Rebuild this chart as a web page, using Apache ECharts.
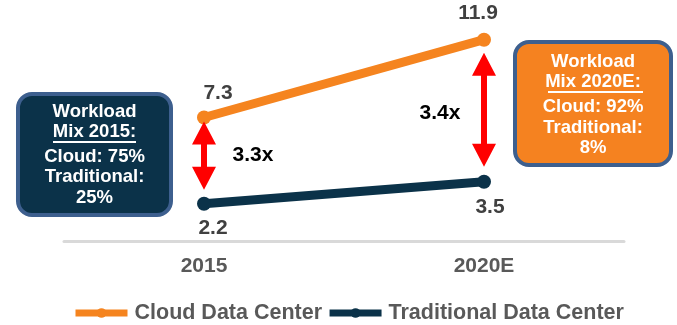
<!DOCTYPE html>
<html>
<head>
<meta charset="utf-8">
<script src="https://cdn.jsdelivr.net/npm/echarts@6/dist/echarts.min.js"></script>
<style>
  html, body { margin: 0; padding: 0; background: #fff; }
  #chart { width: 677px; height: 325px; }
</style>
</head>
<body>
<div id="chart"></div>
<script>
// Data center workload data
const categories = ['2015', '2020E'];
const cloudValues = [7.3, 11.9];
const traditionalValues = [2.2, 3.5];
const seriesNames = ['Cloud Data Center', 'Traditional Data Center'];

// Workload mix call-out boxes
const mix2015 = ['Workload', 'Mix 2015:', 'Cloud: 75%', 'Traditional:', '25%'];
const mix2020 = ['Workload', 'Mix 2020E:', 'Cloud: 92%', 'Traditional:', '8%'];

const ORANGE = '#F5841F';
const NAVY = '#0B3249';
const BORDER = '#3D5F8E';
const FONT = 'Liberation Sans, Arial, sans-serif';

const chart = echarts.init(document.getElementById('chart'));

// label offsets for each point's value text
const cloudLabelOffsets = [[14, -2], [-6, -4]];
const tradLabelOffsets = [[9, 2], [6, 3]];
// arrow tip gaps from the points (top, bottom) and multiplier text offsets
const arrowGaps = [[4, 14], [13, 15]];
const ratioTextOffsets = [[49, 0], [-44, 3]];

function boxGraphic(lines, x, y, w, h, fill, lineYs, ulY, ulX1, ulX2) {
  const cx = x + w / 2;
  const children = [{
    type: 'rect',
    shape: { x: x, y: y, width: w, height: h, r: 14 },
    style: { fill: fill, stroke: BORDER, lineWidth: 4 }
  }];
  lines.forEach((t, i) => {
    children.push({
      type: 'text',
      style: {
        text: t, x: cx, y: lineYs[i], align: 'center', verticalAlign: 'middle',
        fill: '#fff', font: 'bold 18.5px ' + FONT
      }
    });
  });
  children.push({
    type: 'line',
    shape: { x1: ulX1, y1: ulY, x2: ulX2, y2: ulY },
    style: { stroke: '#fff', lineWidth: 2 }
  });
  return { type: 'group', children: children, z: 10 };
}

const arrowData = categories.map((c, i) => [i, cloudValues[i], traditionalValues[i]]);

const option = {
  animation: false,
  grid: { left: 64, right: 53, top: 38, bottom: 84 },
  xAxis: {
    type: 'category',
    data: categories,
    boundaryGap: true,
    axisLine: { lineStyle: { color: '#D9D9D9', width: 3 } },
    axisTick: { show: false },
    axisLabel: {
      margin: 15,
      color: '#595959',
      fontWeight: 'bold',
      fontSize: 21,
      fontFamily: FONT
    }
  },
  yAxis: {
    type: 'value',
    min: 0,
    max: 12,
    show: false,
    splitLine: { show: false }
  },
  legend: {
    top: 302,
    left: 72,
    padding: 0,
    itemWidth: 52,
    itemHeight: 12,
    itemGap: 4,
    data: seriesNames,
    lineStyle: { width: 7 },
    textStyle: { color: '#595959', fontWeight: 'bold', fontSize: 21.5, fontFamily: FONT, padding: [0, 0, 0, 2] }
  },
  series: [
    {
      name: seriesNames[0],
      type: 'line',
      data: cloudValues.map((v, i) => ({
        value: v,
        label: { offset: cloudLabelOffsets[i] }
      })),
      symbol: 'circle',
      symbolSize: 14,
      color: ORANGE,
      lineStyle: { width: 9, color: ORANGE },
      itemStyle: { color: ORANGE },
      label: {
        show: true, position: 'top', distance: 5,
        color: '#404040', fontWeight: 'bold', fontSize: 21, fontFamily: FONT
      },
      z: 3
    },
    {
      name: seriesNames[1],
      type: 'line',
      data: traditionalValues.map((v, i) => ({
        value: v,
        label: { offset: tradLabelOffsets[i] }
      })),
      symbol: 'circle',
      symbolSize: 14,
      color: NAVY,
      lineStyle: { width: 9, color: NAVY },
      itemStyle: { color: NAVY },
      label: {
        show: true, position: 'bottom', distance: 5,
        color: '#404040', fontWeight: 'bold', fontSize: 21, fontFamily: FONT
      },
      z: 3
    },
    {
      // red double-headed arrows between the two series, with the growth multiple
      type: 'custom',
      data: arrowData,
      silent: true,
      z: 4,
      renderItem: function (params, api) {
        const i = params.dataIndex;
        const idx = api.value(0);
        const topPt = api.coord([idx, api.value(1)]);
        const botPt = api.coord([idx, api.value(2)]);
        const x = topPt[0];
        const y1 = topPt[1] + arrowGaps[i][0];
        const y2 = botPt[1] - arrowGaps[i][1];
        const hw = 12, hl = 23, sw = 3;
        const pts = [
          [x, y1], [x + hw, y1 + hl], [x + sw, y1 + hl], [x + sw, y2 - hl],
          [x + hw, y2 - hl], [x, y2], [x - hw, y2 - hl], [x - sw, y2 - hl],
          [x - sw, y1 + hl], [x - hw, y1 + hl]
        ];
        const ratio = (api.value(1) / api.value(2)).toFixed(1) + 'x';
        return {
          type: 'group',
          children: [
            { type: 'polygon', shape: { points: pts }, style: { fill: '#FF0000' } },
            {
              type: 'text',
              style: {
                text: ratio,
                x: x + ratioTextOffsets[i][0],
                y: (y1 + y2) / 2 + ratioTextOffsets[i][1],
                align: 'center', verticalAlign: 'middle',
                fill: '#000', font: 'bold 21px ' + FONT
              }
            }
          ]
        };
      }
    }
  ],
  graphic: [
    boxGraphic(mix2015, 18, 94, 153, 121, NAVY, [112, 132, 157, 177, 198], 142, 53, 136),
    boxGraphic(mix2020, 515, 42, 156, 123, '#F58220', [62, 82, 107, 128, 148], 92, 548, 643)
  ]
};

chart.setOption(option);
</script>
</body>
</html>
